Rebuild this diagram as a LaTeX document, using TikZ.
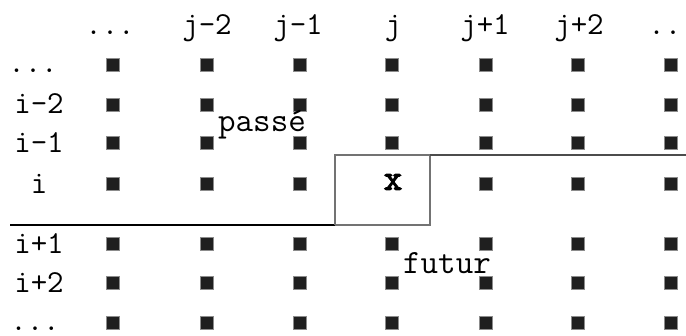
\documentclass[tikz,border=0pt]{standalone}
\usepackage{fontspec}
\newfontfamily\boldtt[FakeBold=3]{Latin Modern Mono}
\newcommand\mydots{.{}.{}.}
\begin{document}
\begin{tikzpicture}[x=1pt,y=-1pt,
  lbl/.style={font=\ttfamily\fontsize{32}{32}\selectfont, anchor=base, inner sep=0pt},
  word/.style={font=\ttfamily\fontsize{34}{34}\selectfont, anchor=base, inner sep=0pt},
  cell/.style={fill=black!88, draw=black!45, line width=0.8pt, minimum size=13.5pt, inner sep=0pt}]
\useasboundingbox (0,0) rectangle (686,335);
% column headers
\foreach \n/\t/\x in {h0/\mydots/110, h1/j-2/207, h2/j-1/298, h3/j/393, h4/j+1/485, h5/j+2/579, h6/\mydots/673}
  \node[lbl] (\n) at (\x,34) {\t};
% row labels
\foreach \n/\t/\x/\y in {r0/\mydots/33/72, r1/i-2/39/113, r2/i-1/39/152, r3/i/39/193, r4/i+1/39/253, r5/i+2/39/292, r6/\mydots/35/330}
  \node[lbl] (\n) at (\x,\y) {\t};
% grid of squares
\foreach \x [count=\c] in {113,207,300,392,486,578,671}
  \foreach \y [count=\r] in {65,105,143,184,244,283,323}
    {\ifnum\c=4 \ifnum\r=4 \else \node[cell] (s\r\c) at (\x,\y) {}; \fi
     \else \node[cell] (s\r\c) at (\x,\y) {}; \fi}
% current cell
\node[font=\boldtt\fontsize{36}{36}\selectfont, inner sep=0pt] (cx) at (393,182) {x};
% separators
\coordinate (a) at (10,225);
\coordinate (b) at (335,225);
\coordinate (c) at (335,155);
\coordinate (d) at (430,155);
\coordinate (e) at (430,225);
\coordinate (f) at (686,155);
\draw[line width=2.4pt, black] (a) -- (b);
\draw[line width=1.3pt, black!55] (b) -- (c) -- (d) -- (e) -- (b);
\draw[line width=1.5pt, black!70] (d) -- (f);
% words
\node[word] (passe) at (262,131) {passé};
\node[word] (futur) at (447,273) {futur};
\end{tikzpicture}
\end{document}
